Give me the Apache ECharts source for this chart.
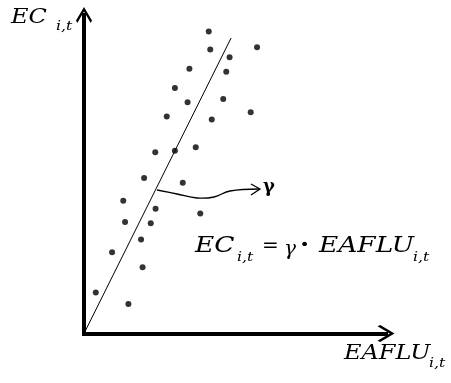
<!DOCTYPE html>
<html>
<head>
<meta charset="utf-8">
<script src="https://cdn.jsdelivr.net/npm/echarts@6/dist/echarts.min.js"></script>
<style>
html, body { margin: 0; padding: 0; background: #fff; }
#chart { width: 451px; height: 383px; }
</style>
</head>
<body>
<div id="chart"></div>
<script>
// Observations: EAFLU (x) and EC (y), arbitrary units 0..100
const eaflu = [41.3, 41.8, 57.3, 48.2, 34.9, 47.1, 30.1, 34.3, 46.1, 55.2, 27.4, 42.3,
               23.6, 30.1, 37.0, 19.9, 32.7, 13.0, 38.5, 23.7, 13.6, 22.1, 18.9, 9.3,
               19.4, 3.9, 14.7];
const ec    = [94.8, 89.2, 89.9, 86.7, 83.1, 82.2, 77.1, 72.6, 73.6, 69.5, 68.1, 67.2,
               56.9, 57.4, 58.5, 48.8, 47.3, 41.7, 37.7, 39.2, 35.0, 34.6, 29.5, 25.5,
               20.8, 12.9, 9.3];

// Slope of the line through the origin: EC = gamma * EAFLU
const gamma = 1.905;
const fitX = [0, 48.7];

const points = eaflu.map((x, i) => [x, ec[i]]);
const fitLine = fitX.map(x => [x, gamma * x]);

// Open chevron arrow head, drawn pointing up
const chevron = 'path://M50 0 L100 84 L92 100 L50 28 L8 100 L0 84 Z';

const serif = '"DejaVu Serif", "Liberation Serif", serif';

function txt(text, x, y, size, opts) {
  opts = opts || {};
  return {
    type: 'text', x: x, y: y, scaleX: opts.widen === undefined ? 1.2 : opts.widen,
    style: {
      text: text, fill: '#000',
      font: (opts.weight || 'italic') + ' ' + size + 'px ' + serif,
      verticalAlign: 'middle', align: 'left'
    }
  };
}

const chart = echarts.init(document.getElementById('chart'), null, { renderer: 'canvas' });

chart.setOption({
  animation: false,
  backgroundColor: '#fff',
  grid: { left: 84, top: 15, width: 302, height: 318.5 },
  xAxis: {
    type: 'value', min: 0, max: 100,
    axisLine: {
      show: true, onZero: false,
      lineStyle: { color: '#000', width: 4, cap: 'square' },
      symbol: ['none', chevron], symbolSize: [17, 17]
    },
    axisTick: { show: false }, axisLabel: { show: false }, splitLine: { show: false }
  },
  yAxis: {
    type: 'value', min: 0, max: 100,
    axisLine: {
      show: true, onZero: false,
      lineStyle: { color: '#000', width: 4, cap: 'square' },
      symbol: ['none', chevron], symbolSize: [18, 16]
    },
    axisTick: { show: false }, axisLabel: { show: false }, splitLine: { show: false }
  },
  series: [
    {
      type: 'line', data: fitLine, symbol: 'none', silent: true,
      lineStyle: { color: '#000', width: 1 }
    },
    {
      type: 'scatter', data: points, symbol: 'circle', symbolSize: 6,
      itemStyle: { color: '#000' }, silent: true
    }
  ],
  graphic: [
    // wavy pointer from the line to the slope symbol
    {
      type: 'polyline',
      shape: { points: [[157, 190], [177, 194], [197, 198], [214, 197], [230, 191], [259, 189]], smooth: 0.4 },
      style: { stroke: '#000', lineWidth: 1.3, fill: null }
    },
    {
      type: 'polyline',
      shape: { points: [[251, 184], [260, 189], [251, 195]] },
      style: { stroke: '#000', lineWidth: 1.3, fill: null }
    },
    {
      type: 'text', x: 263, y: 187,
      style: { text: 'γ', fill: '#000', font: 'bold 18px ' + serif, verticalAlign: 'middle' }
    },
    // axis titles
    txt('EC', 11, 17.5, 20),
    txt('i,t', 56, 27, 13),
    txt('EAFLU', 344, 354, 20),
    txt('i,t', 429, 364, 13),
    // equation
    txt('EC', 195, 246.5, 22),
    txt('i,t', 237, 257.5, 13),
    txt('=', 262, 246.5, 20, { weight: 'normal', widen: 1 }),
    txt('γ', 284, 250, 20, { widen: 1 }),
    txt('·', 300, 246.5, 22, { weight: 'bold' }),
    txt('EAFLU', 319, 246.5, 22),
    txt('i,t', 413, 257.5, 13)
  ]
});
</script>
</body>
</html>
